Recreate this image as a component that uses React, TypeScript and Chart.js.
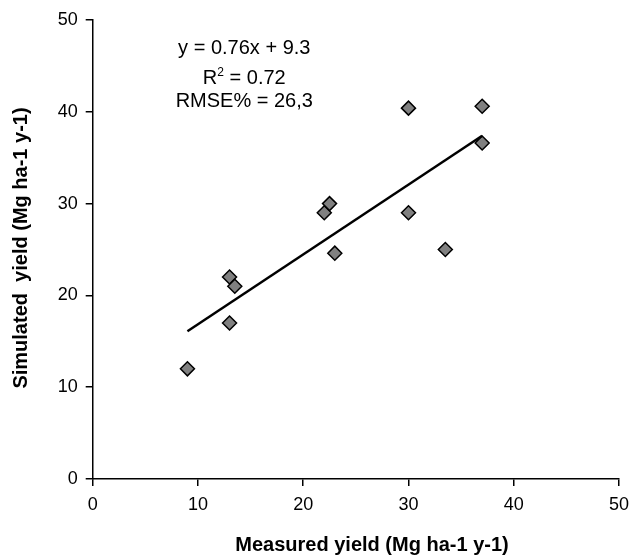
import React, { useEffect, useRef } from "react";
import { Chart, registerables } from "chart.js";

Chart.register(...registerables);

// Measured vs simulated yield (Mg ha-1 y-1)
const measured = [9, 13, 13.5, 13, 22, 22.5, 23, 30, 30, 33.5, 37, 37];
const simulated = [12, 22, 21, 17, 29, 30, 24.6, 40.4, 29, 25, 40.6, 36.6];

// Trend line end points (y = 0.76x + 9.3)
const trendX = [9, 37];
const trendY = [16.1, 37.4];

const axisMin = 0;
const axisMax = 50;
const axisStep = 10;

const eqLine = "y = 0.76x + 9.3";
const r2Base = "R";
const r2Sup = "2";
const r2Rest = " = 0.72";
const rmseLine = "RMSE% = 26,3";

const xTitle = "Measured yield (Mg ha-1 y-1)";
const yTitle = "Simulated  yield (Mg ha-1 y-1)";

const FONT = "'Liberation Sans', Arial, Helvetica, sans-serif";

const textPlugin = {
  id: "textPlugin",
  afterDraw(chart: any) {
    const ctx = chart.ctx as CanvasRenderingContext2D;
    const xs = chart.scales.x;
    const ys = chart.scales.y;
    ctx.save();
    ctx.fillStyle = "#000";
    ctx.textBaseline = "alphabetic";

    // annotation block, anchored in data coordinates
    const cx = xs.getPixelForValue(14.4);
    ctx.font = `20px ${FONT}`;
    ctx.textAlign = "center";
    ctx.fillText(eqLine, cx, ys.getPixelForValue(46.3));

    // R^2 line
    const yR = ys.getPixelForValue(43.0);
    ctx.textAlign = "left";
    ctx.font = `20px ${FONT}`;
    const wR = ctx.measureText(r2Base).width;
    const wRest = ctx.measureText(r2Rest).width;
    ctx.font = `12px ${FONT}`;
    const wSup = ctx.measureText(r2Sup).width;
    const total = wR + wSup + wRest;
    const x0 = cx - total / 2;
    ctx.font = `20px ${FONT}`;
    ctx.fillText(r2Base, x0, yR);
    ctx.font = `12px ${FONT}`;
    ctx.fillText(r2Sup, x0 + wR, yR - 8);
    ctx.font = `20px ${FONT}`;
    ctx.fillText(r2Rest, x0 + wR + wSup, yR);

    ctx.textAlign = "center";
    ctx.fillText(rmseLine, cx, ys.getPixelForValue(40.5));

    // axis titles
    ctx.font = `bold 20px ${FONT}`;
    ctx.textAlign = "center";
    ctx.fillText(xTitle, 372, 551);

    ctx.translate(27, 248);
    ctx.rotate(-Math.PI / 2);
    ctx.fillText(yTitle, 0, 0);
    ctx.restore();
  },
};

export default function App() {
  const ref = useRef<HTMLCanvasElement | null>(null);

  useEffect(() => {
    if (!ref.current) return;
    const axisCommon = (extra: any) => ({
      type: "linear",
      min: axisMin,
      max: axisMax,
      ticks: {
        stepSize: axisStep,
        color: "#000",
        font: { size: 18, family: FONT },
        padding: 8,
      },
      grid: {
        display: true,
        drawOnChartArea: false,
        drawTicks: true,
        tickLength: 7,
        color: "#000",
        lineWidth: 1.5,
      },
      border: { display: true, color: "#000", width: 1.5 },
      title: { display: false },
      ...extra,
    });

    const chart = new Chart(ref.current, {
      type: "scatter",
      data: {
        datasets: [
          {
            type: "line",
            label: "trend",
            data: trendX.map((x, i) => ({ x, y: trendY[i] })),
            borderColor: "#000",
            borderWidth: 2.5,
            pointRadius: 0,
            fill: false,
            order: 0,
          } as any,
          {
            type: "scatter",
            label: "yield",
            data: measured.map((x, i) => ({ x, y: simulated[i] })),
            pointStyle: "rectRot",
            pointRadius: 7,
            backgroundColor: "#808080",
            borderColor: "#000",
            borderWidth: 1.5,
            order: 1,
          },
        ],
      },
      options: {
        animation: false,
        responsive: true,
        maintainAspectRatio: false,
        layout: { padding: { top: 20, right: 10, left: 0, bottom: 0 } },
        plugins: {
          legend: { display: false },
          tooltip: { enabled: false },
        },
        scales: {
          x: axisCommon({
            position: "bottom",
            afterFit: (s: any) => {
              s.height = 77;
              s.paddingLeft = 0;
              s.paddingRight = 0;
            },
          }),
          y: axisCommon({
            position: "left",
            afterFit: (s: any) => {
              s.width = 92.7;
              s.paddingTop = 0;
              s.paddingBottom = 0;
            },
          }),
        } as any,
      },
      plugins: [textPlugin],
    });
    return () => chart.destroy();
  }, []);

  return (
    <div
      style={{
        position: "absolute",
        left: 0,
        top: 0,
        width: 629,
        height: 556,
        background: "#fff",
      }}
    >
      <canvas ref={ref} />
    </div>
  );
}
